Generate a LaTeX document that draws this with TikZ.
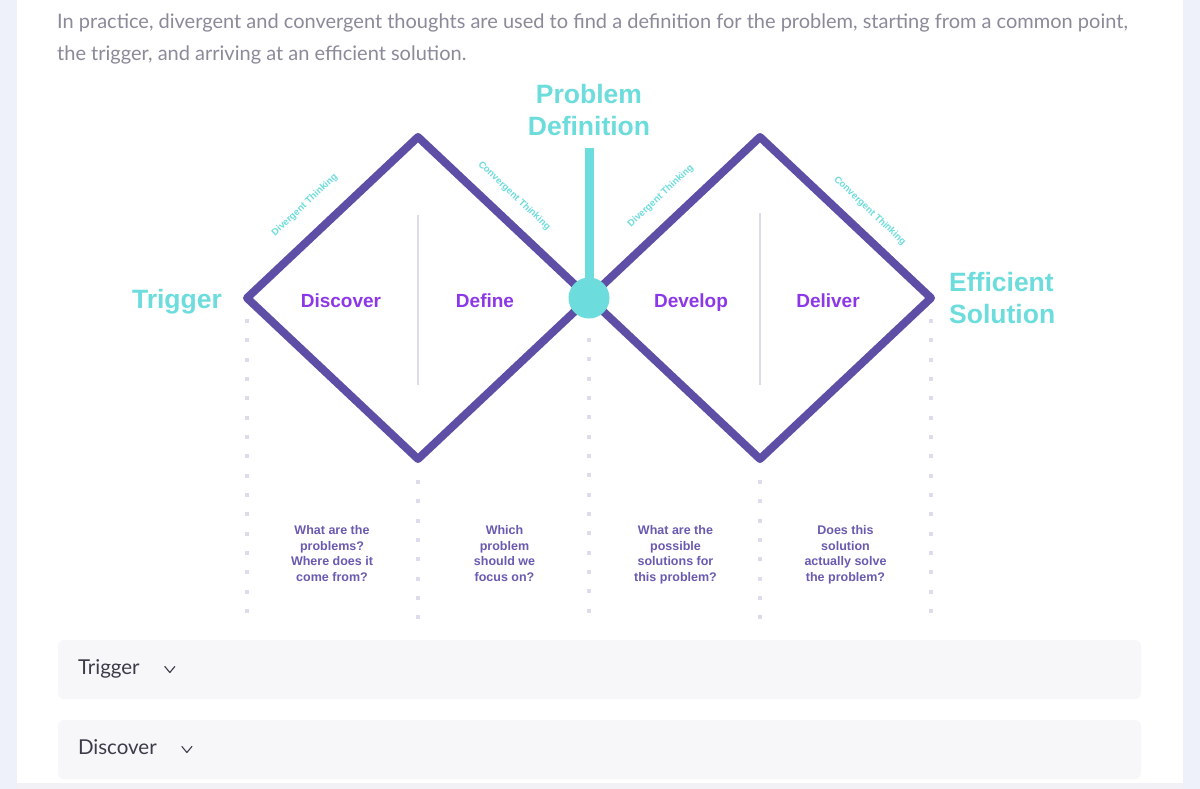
\documentclass[tikz,border=0pt]{standalone}
\usepackage{fontspec}
\setmainfont{Liberation Sans}
\newfontfamily\uifont{Lato}
\usetikzlibrary{positioning, calc}
\definecolor{dpurple}{RGB}{95,78,166}
\definecolor{dcyan}{RGB}{108,220,220}
\definecolor{dviolet}{RGB}{140,55,232}
\definecolor{qpurple}{RGB}{106,90,176}
\definecolor{dotgray}{RGB}{220,220,236}
\definecolor{introgray}{RGB}{138,138,154}
\definecolor{pageside}{RGB}{238,241,250}
\definecolor{pagebottom}{RGB}{242,242,246}
\definecolor{barfill}{RGB}{247,247,249}
\definecolor{bartext}{RGB}{60,59,74}
\tikzset{
  diamondline/.style={line width=8pt, color=dpurple, line join=round},
  bigtitle/.style={font=\fontsize{26.5}{32}\selectfont\bfseries, text=dcyan,
    inner sep=0pt},
  phase/.style={font=\fontsize{19}{22}\selectfont\bfseries, text=dviolet,
    inner sep=0pt, anchor=base},
  question/.style={font=\fontsize{12.5}{15.5}\selectfont\bfseries, text=qpurple,
    align=center, inner sep=0pt, anchor=north},
  thinklabel/.style={font=\fontsize{9.5}{10}\selectfont\bfseries, text=dcyan,
    sloped, inner sep=0pt},
  hub/.style={circle, fill=dcyan, minimum size=41pt, inner sep=0pt},
  stem/.style={line width=9pt, color=dcyan},
  divider/.style={line width=1.5pt, color=dotgray},
  accbar/.style={rectangle, fill=barfill, rounded corners=6pt,
    minimum width=1083pt, minimum height=59pt, inner sep=0pt},
  acctext/.style={font=\uifont\fontsize{20.5}{22}\selectfont, text=bartext,
    inner sep=0pt, text height=15pt, text depth=4.5pt},
  chevron/.style={line width=1.1pt, color=bartext, line cap=round, line join=round},
  intro/.style={font=\uifont\fontsize{20}{22}\selectfont, text=introgray,
    inner sep=0pt, anchor=base west}
}

\begin{document}
\begin{tikzpicture}[x=1pt, y=-1pt]
  \useasboundingbox (0,0) rectangle (1200,789);
  % page
  \fill[pageside] (0,0) rectangle (1200,789);
  \fill[white] (17,0) rectangle (1183,783);
  \fill[pagebottom] (17,783) rectangle (1183,789);

  \node[intro] (intro1) at (57,29) {In practice, divergent and convergent thoughts are used to find a definition for the problem, starting from a common point,};
  \node[intro] (intro2) at (57,61) {the trigger, and arriving at an efficient solution.};

  % dotted guides
  \foreach \x/\ys/\n in {247/321/15, 589/340/14, 931/321/15, 418/482/7, 760/482/7}
    \foreach \k in {0,...,\n}
      \fill[dotgray] (\x-2,\ys+19.33*\k-2) rectangle ++(4,4);

  \coordinate (lleft) at (247,298);
  \coordinate (ltop) at (418,137);
  \coordinate (lbot) at (418,459);
  \coordinate (hubc) at (589,298);
  \coordinate (rtop) at (760,137);
  \coordinate (rbot) at (760,459);
  \coordinate (rright) at (931,298);
  \coordinate (stemtop) at (589,148);

  \draw[divider] (418,215) coordinate (ldtop) -- (418,385) coordinate (ldbot);
  \draw[divider] (760,213) coordinate (rdtop) -- (760,385) coordinate (rdbot);

  \draw[diamondline] (lleft)
    -- node[thinklabel, pos=0.45, above=19.5pt] {Divergent Thinking} (ltop)
    -- node[thinklabel, pos=0.47, above=14.5pt] {Convergent Thinking} (hubc)
    -- (lbot) -- cycle;
  \draw[diamondline] (hubc)
    -- node[thinklabel, pos=0.52, above=16.5pt] {Divergent Thinking} (rtop)
    -- node[thinklabel, pos=0.556, above=13pt] {Convergent Thinking} (rright)
    -- (rbot) -- cycle;

  \node[hub] (hub) at (hubc) {};
  \draw[stem] (stemtop) -- (hub.center);

  \node[bigtitle, align=center] (probdef) at (589,110) {Problem\\Definition};
  \node[bigtitle, anchor=base] (trigger) at (177,308) {Trigger};
  \node[bigtitle, align=left, anchor=west] (effsol) at (949,298) {Efficient\\Solution};

  \node[phase] (discover) at (341,307) {Discover};
  \node[phase] (define) at (485,307) {Define};
  \node[phase] (develop) at (691,307) {Develop};
  \node[phase] (deliver) at (828,307) {Deliver};

  \node[question] (q1) at (332,525.5) {What are the\\problems?\\Where does it\\come from?};
  \node[question] (q2) at (504.5,525.5) {Which\\problem\\should we\\focus on?};
  \node[question] (q3) at (675.5,525.5) {What are the\\possible\\solutions for\\this problem?};
  \node[question] (q4) at (845.5,525.5) {Does this\\solution\\actually solve\\the problem?};

  % accordion
  \node[accbar] (bartrig) at (599.5,669.5) {};
  \node[accbar] (bardisc) at (599.5,749.5) {};
  \node[acctext, right=20pt of bartrig.west] (trigtxt) {Trigger};
  \node[acctext, right=20pt of bardisc.west] (disctxt) {Discover};
  \draw[chevron] ([xshift=25pt, yshift=3pt]trigtxt.east) -- ++(5,6) -- ++(5,-6);
  \draw[chevron] ([xshift=25pt, yshift=3pt]disctxt.east) -- ++(5,6) -- ++(5,-6);
\end{tikzpicture}
\end{document}
